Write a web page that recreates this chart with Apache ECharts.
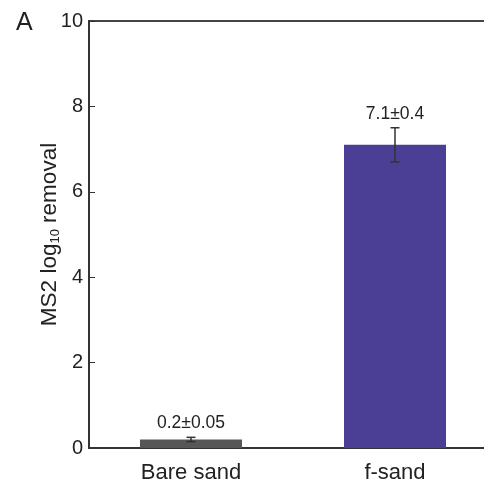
<!DOCTYPE html>
<html>
<head>
<meta charset="utf-8">
<script src="https://cdn.jsdelivr.net/npm/echarts@6/dist/echarts.min.js"></script>
<style>
  html, body { margin: 0; padding: 0; background: #fff; }
  #chart { width: 484px; height: 485px; }
</style>
</head>
<body>
<div id="chart"></div>
<script type="text/javascript">
var categories = ['Bare sand', 'f-sand'];
var removal = [0.2, 7.1];
var errors = [0.05, 0.4];
var barLabels = ['0.2±0.05', '7.1±0.4'];
var barColors = ['#575757', '#4b3f95'];

var myChart = echarts.init(document.getElementById('chart'));

var errData = categories.map(function (c, i) {
    return [i, removal[i] - errors[i], removal[i] + errors[i]];
});

var option = {
    animation: false,
    textStyle: { fontFamily: 'Liberation Sans, Arial, sans-serif' },
    title: {
        text: 'A',
        left: 11, top: 6,
        textStyle: { fontSize: 25, fontWeight: 'normal', color: '#222' }
    },
    grid: {
        left: 89, top: 21, width: 408, height: 427,
        outerBoundsMode: 'none',
        containLabel: false,
        show: true, borderColor: '#444', borderWidth: 2
    },
    xAxis: {
        type: 'category',
        data: categories,
        axisLine: { lineStyle: { color: '#333', width: 2 } },
        axisTick: { show: false },
        axisLabel: { fontSize: 22, color: '#222', margin: 14 }
    },
    yAxis: {
        type: 'value',
        min: 0, max: 10, interval: 2,
        name: '{n|MS2 log}{s|10}{n| removal}',
        nameLocation: 'middle',
        nameGap: 27,
        nameMoveOverlap: false,
        nameTextStyle: {
            rich: {
                n: { fontSize: 22.5, color: '#222' },
                s: { fontSize: 13, color: '#222', padding: [12, 0, 0, 0] }
            }
        },
        splitLine: { show: false },
        axisLine: { show: true, lineStyle: { color: '#333', width: 2 } },
        axisTick: { show: true, inside: true, length: 6, lineStyle: { color: '#333' } },
        axisLabel: { fontSize: 20, color: '#222', margin: 6 }
    },
    series: [{
        type: 'bar',
        barWidth: '50%',
        data: removal.map(function (v, i) {
            return { value: v, itemStyle: { color: barColors[i] } };
        })
    }, {
        type: 'custom',
        data: errData,
        z: 10,
        renderItem: function (params, api) {
            var i = api.value(0);
            var lo = api.coord([i, api.value(1)]);
            var hi = api.coord([i, api.value(2)]);
            var hw = 4.5;
            var st = { stroke: '#333', lineWidth: 1.5 };
            return {
                type: 'group',
                children: [
                    { type: 'line', shape: { x1: lo[0], y1: lo[1], x2: hi[0], y2: hi[1] }, style: st },
                    { type: 'line', shape: { x1: lo[0] - hw, y1: lo[1], x2: lo[0] + hw, y2: lo[1] }, style: st },
                    { type: 'line', shape: { x1: hi[0] - hw, y1: hi[1], x2: hi[0] + hw, y2: hi[1] }, style: st },
                    {
                        type: 'text',
                        style: {
                            text: barLabels[i],
                            x: hi[0], y: hi[1] - 5,
                            align: 'center', verticalAlign: 'bottom',
                            fontSize: 17.5, fill: '#222',
                            fontFamily: 'Liberation Sans, Arial, sans-serif'
                        }
                    }
                ]
            };
        }
    }]
};
myChart.setOption(option);
</script>
</body>
</html>
